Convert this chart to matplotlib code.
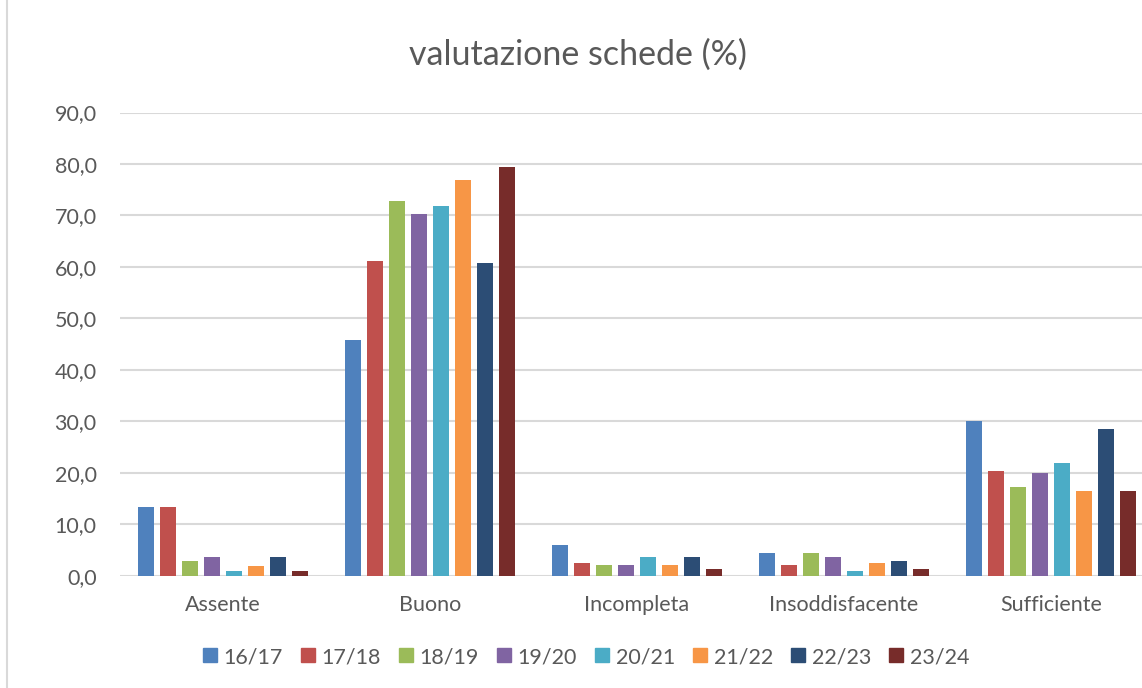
import numpy as np
import matplotlib.pyplot as plt
from matplotlib.lines import Line2D

# data
categories = ['Assente', 'Buono', 'Incompleta', 'Insoddisfacente', 'Sufficiente']
years = ['16/17', '17/18', '18/19', '19/20', '20/21', '21/22', '22/23', '23/24']
v_1617 = [13.4, 45.7, 6.0, 4.4, 30.1]
v_1718 = [13.4, 61.2, 2.5, 2.1, 20.4]
v_1819 = [2.9, 72.9, 2.1, 4.4, 17.3]
v_1920 = [3.7, 70.2, 2.1, 3.6, 20.0]
v_2021 = [1.0, 71.8, 3.6, 0.9, 21.9]
v_2122 = [1.8, 76.8, 2.1, 2.5, 16.5]
v_2223 = [3.7, 60.8, 3.6, 2.9, 28.6]
v_2324 = [1.0, 79.5, 1.3, 1.3, 16.5]
series = [v_1617, v_1718, v_1819, v_1920, v_2021, v_2122, v_2223, v_2324]
colors = ['#4f81bd', '#c0504d', '#9bbb59', '#8064a2', '#4bacc6',
          '#f79646', '#2c4d75', '#772c2a']

plt.rcParams['font.family'] = ['Lato', 'DejaVu Sans']
txt = '#595959'
fs = 15.5

W, H = 1142, 688
fig = plt.figure(figsize=(W / 100, H / 100), dpi=100)
# plot area runs past the right edge, like the cropped original
ax = fig.add_axes([119.5 / W, 1 - 575.7 / H, (1154.5 - 119.5) / W, (575.7 - 112.5) / H])

x = np.arange(len(categories))
pitch = 0.106
bw = 0.078
for i, (vals, c) in enumerate(zip(series, colors)):
    ax.bar(x + (i - 3.5) * pitch, vals, width=bw, color=c, label=years[i], zorder=3)

ax.set_xlim(-0.5, len(categories) - 0.5)
ax.set_ylim(0, 90)
ax.set_yticks(np.arange(0, 91, 10))
ax.set_yticklabels([('%.1f' % t).replace('.', ',') for t in np.arange(0, 91, 10)])
ax.set_xticks(x)
ax.set_xticklabels(categories)
ax.grid(axis='y', color='#d9d9d9', linewidth=1.5, zorder=0)
ax.tick_params(axis='both', length=0, labelsize=fs, colors=txt)
ax.tick_params(axis='y', pad=16.5)
ax.tick_params(axis='x', pad=14)
for s in ax.spines.values():
    s.set_visible(False)

fig.text(578 / W, 1 - 55 / H, 'valutazione schede (%)', ha='center', va='center',
         fontsize=24.5, color=txt)

handles = [Line2D([], [], marker='s', linestyle='', markersize=10, color=c) for c in colors]
fig.legend(handles, years, loc='center', bbox_to_anchor=(586 / W, 1 - 657 / H), ncol=8,
           frameon=False, fontsize=fs, labelcolor=txt, handlelength=0.65,
           handletextpad=0.3, columnspacing=0.85)

# chart border on the left
fig.add_artist(Line2D([7 / W, 7 / W], [0, 1], color='#d9d9d9', linewidth=1.5))

fig.savefig('out.png', dpi=100)
